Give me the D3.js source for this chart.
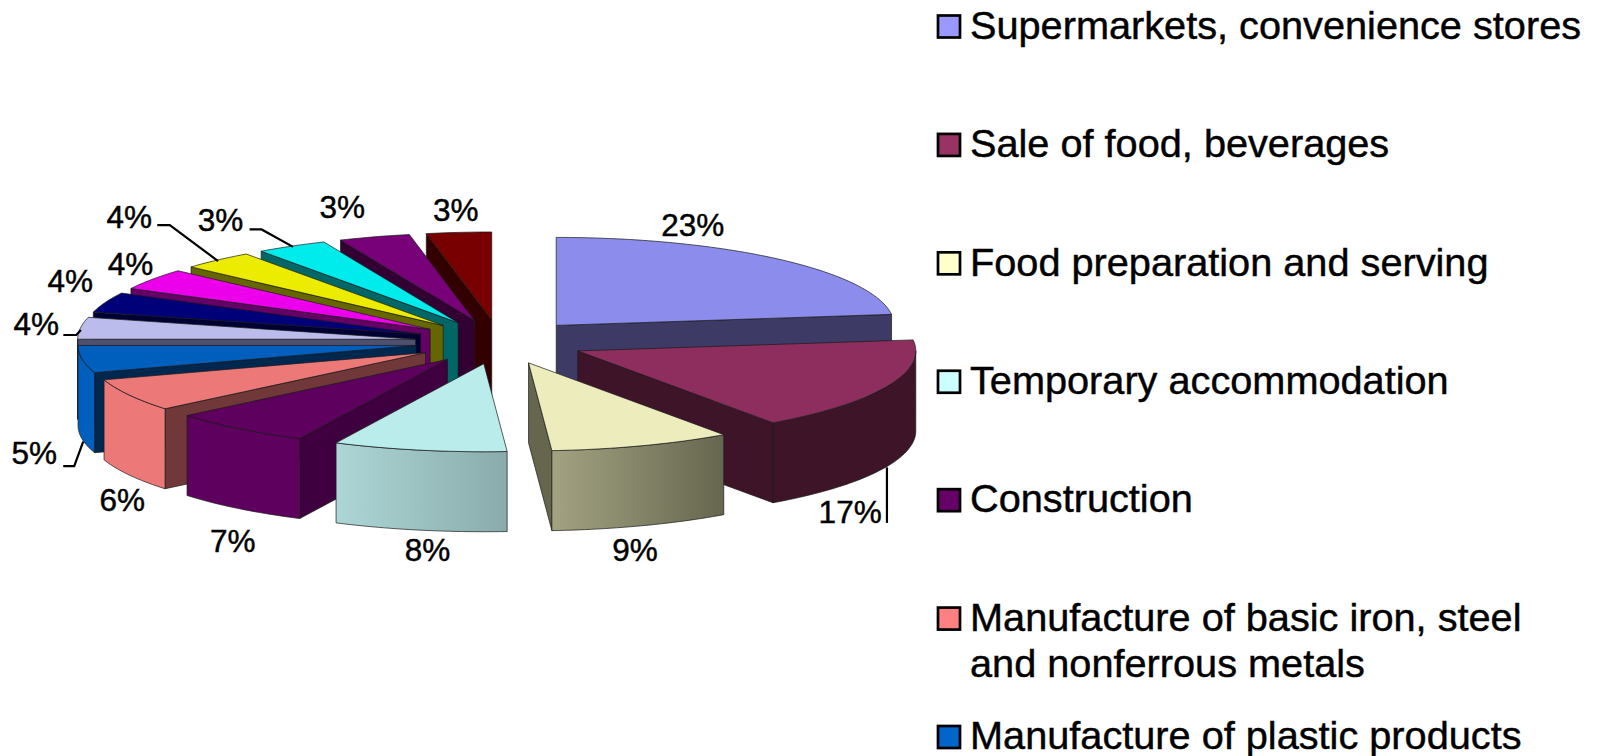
<!DOCTYPE html>
<html lang="en">
<head>
    <meta charset="UTF-8">
    <title>Exploded 3D pie</title>
    <script src="https://d3js.org/d3.v7.min.js"></script>
    <style>
        body { margin: 0; background: #fff; }
        svg { display: block; }
        text { font-family: "Liberation Sans", Arial, sans-serif; fill: #000; stroke: #000; stroke-width: 0.45px; }
        .legend text { font-size: 39.7px; }
        .pct { font-size: 31.5px; text-anchor: middle; }
        .leader { fill: none; stroke: #000; stroke-width: 2.2px; }
        .edge { stroke: #1a1a1a; stroke-width: 0.7px; stroke-linejoin: round; }
    </style>
</head>
<body>
    <svg width="1597" height="756"></svg>

    <script>
        // values are read off the picture, a few are not whole numbers
        var values = [23, 17.2, 8.7, 8.3, 6.8, 6, 5, 4, 3.7, 3.9, 3.5, 3.4, 3.4, 3.1];

        var legendNames = [
            ["Supermarkets, convenience stores"],
            ["Sale of food, beverages"],
            ["Food preparation and serving"],
            ["Temporary accommodation"],
            ["Construction"],
            ["Manufacture of basic iron, steel", "and nonferrous metals"],
            ["Manufacture of plastic products"]
        ];
        var legendColors = ["#9999ff", "#993366", "#ffffcc", "#ccffff", "#660066", "#ff8080", "#0066cc"];

        var topColors = ["#8c8cec", "#8e2e5e", "#ececbc", "#baecec", "#5e005e", "#ec7878", "#005ebc",
                         "#bcbcec", "#000078", "#ec00ec", "#ecec00", "#00ecec", "#780078", "#780000"];
        var wallColors = ["#3d3b66", "#3d1428", "#66664f", "#5f7a7a", "#3f0040", "#703838", "#00284f",
                          "#4f4f70", "#000033", "#660066", "#666600", "#006666", "#330033", "#330000"];
        // left and right colour of the round outer wall
        var outerLeft = ["#3d3b66", "#3d1428", "#a3a382", "#add6d6", "#5e005e", "#ec7878", "#005ebc",
                         "#4f4f70", "#000033", "#660066", "#666600", "#006666", "#330033", "#330000"];
        var outerRight = ["#3d3b66", "#3d1428", "#66664f", "#8aabab", "#5e005e", "#ec7878", "#005ebc",
                          "#4f4f70", "#000033", "#660066", "#666600", "#006666", "#330033", "#330000"];

        // label and leader offsets from the middle of each slice's outer edge
        var labelOffsets = [[-87, -35], [-37, 125], [-7, 104], [8, 100], [-6, 112], [-7, 105], [-48, 93],
                            [-44, -5], [-35, -22], [-22, -16], [-88, -43], [-71, -27], [-32, -30], [-3, -23]];
        var leaders = [
            { slice: 1, pts: [[-0.2, 81], [-0.2, 136.5]] },
            { slice: 6, pts: [[-19, 106.8], [-8, 106.8], [1, 82.5]] },
            { slice: 7, pts: [[-17, 6.8], [-4, 6.8], [0.5, 1.8]] },
            { slice: 10, pts: [[-60, -35], [-47.5, -35], [0.8, 1]] },
            { slice: 11, pts: [[-42, -16.7], [-30, -16.7], [1.5, 0.7]] }
        ];

        var cx = 500, cy = 342, rx = 338, ry = 88, depth = 80, explode = 85;

        var svg = d3.select("svg");
        var defs = svg.append("defs");

        var pie = d3.pie().sort(null).value(function(d) { return d; });
        var slices = pie(values);

        // unit circle to screen
        var x = d3.scaleLinear().domain([-1, 1]).range([cx - rx, cx + rx]);
        var y = d3.scaleLinear().domain([-1, 1]).range([cy + ry, cy - ry]);
        var line = d3.line().x(function(d) { return d[0]; }).y(function(d) { return d[1]; });

        function apex(d) {
            var mid = (d.startAngle + d.endAngle) / 2;
            return [cx + Math.sin(mid) * explode, cy - Math.cos(mid) * explode * ry / rx];
        }
        function rim(d, a) {
            var c = apex(d);
            return [c[0] + x(Math.sin(a)) - cx, c[1] + y(Math.cos(a)) - cy];
        }
        function down(p) {
            return [p[0], p[1] + depth];
        }
        function arcPoints(d, a0, a1) {
            var n = Math.max(2, Math.ceil((a1 - a0) / 0.02));
            return d3.range(n + 1).map(function(i) { return rim(d, a0 + (a1 - a0) * i / n); });
        }
        function outerMid(d) {
            return rim(d, (d.startAngle + d.endAngle) / 2);
        }

        // back slices first
        var order = slices.slice().sort(function(a, b) {
            return -Math.cos((a.startAngle + a.endAngle) / 2) + Math.cos((b.startAngle + b.endAngle) / 2);
        });

        var pieG = svg.append("g");

        order.forEach(function(d) {
            var i = d.index;
            var g = pieG.append("g");
            var c = apex(d);

            // flat side walls, only the ones that face the viewer
            [d.startAngle, d.endAngle].forEach(function(a, k) {
                var s = Math.sin(a);
                if ((k === 0 && s < -1e-6) || (k === 1 && s > 1e-6)) {
                    var p = rim(d, a);
                    g.append("path")
                     .attr("class", "edge")
                     .attr("fill", wallColors[i])
                     .attr("d", line([c, p, down(p), down(c)]) + "Z");
                }
            });

            // round outer wall, front half only
            var a0 = Math.max(d.startAngle, Math.PI / 2);
            var a1 = Math.min(d.endAngle, Math.PI * 1.5);
            if (a1 > a0) {
                var top = arcPoints(d, a0, a1);
                var bottom = top.map(down).reverse();
                var id = "outer" + i;
                var xs = d3.extent(top, function(p) { return p[0]; });
                var grad = defs.append("linearGradient")
                               .attr("id", id)
                               .attr("gradientUnits", "userSpaceOnUse")
                               .attr("x1", xs[0]).attr("x2", xs[1])
                               .attr("y1", 0).attr("y2", 0);
                grad.append("stop").attr("offset", 0).attr("stop-color", outerLeft[i]);
                grad.append("stop").attr("offset", 1).attr("stop-color", outerRight[i]);
                g.append("path")
                 .attr("class", "edge")
                 .attr("fill", "url(#" + id + ")")
                 .attr("d", line(top.concat(bottom)) + "Z");
            }

            // top face
            g.append("path")
             .attr("class", "edge")
             .attr("fill", topColors[i])
             .attr("d", line([c].concat(arcPoints(d, d.startAngle, d.endAngle))) + "Z");
        });

        // percent labels
        svg.append("g").selectAll("text")
           .data(slices)
           .enter()
           .append("text")
           .attr("class", "pct")
           .attr("x", function(d) { return outerMid(d)[0] + labelOffsets[d.index][0]; })
           .attr("y", function(d) { return outerMid(d)[1] + labelOffsets[d.index][1]; })
           .attr("dy", "0.36em")
           .text(function(d) { return Math.round(d.value) + "%"; });

        // leader lines
        svg.append("g").selectAll("path")
           .data(leaders)
           .enter()
           .append("path")
           .attr("class", "leader")
           .attr("d", function(l) {
               var m = outerMid(slices[l.slice]);
               return line(l.pts.map(function(p) { return [m[0] + p[0], m[1] + p[1]]; }));
           });

        // legend
        var rowY = d3.scalePoint()
                     .domain(d3.range(legendNames.length))
                     .range([26.5, 737]);

        var items = svg.append("g")
                       .attr("class", "legend")
                       .selectAll("g")
                       .data(legendNames)
                       .enter()
                       .append("g")
                       .attr("transform", function(d, i) { return "translate(937," + rowY(i) + ")"; });

        items.append("rect")
             .attr("x", 1)
             .attr("y", -11)
             .attr("width", 22)
             .attr("height", 22)
             .attr("fill", function(d, i) { return legendColors[i]; })
             .attr("stroke", "#000")
             .attr("stroke-width", 2.7);

        items.each(function(d) {
            var t = d3.select(this).append("text");
            d.forEach(function(part, k) {
                t.append("tspan").attr("x", 33).attr("dy", k === 0 ? "0.31em" : 46).text(part);
            });
        });
    </script>
</body>
</html>
